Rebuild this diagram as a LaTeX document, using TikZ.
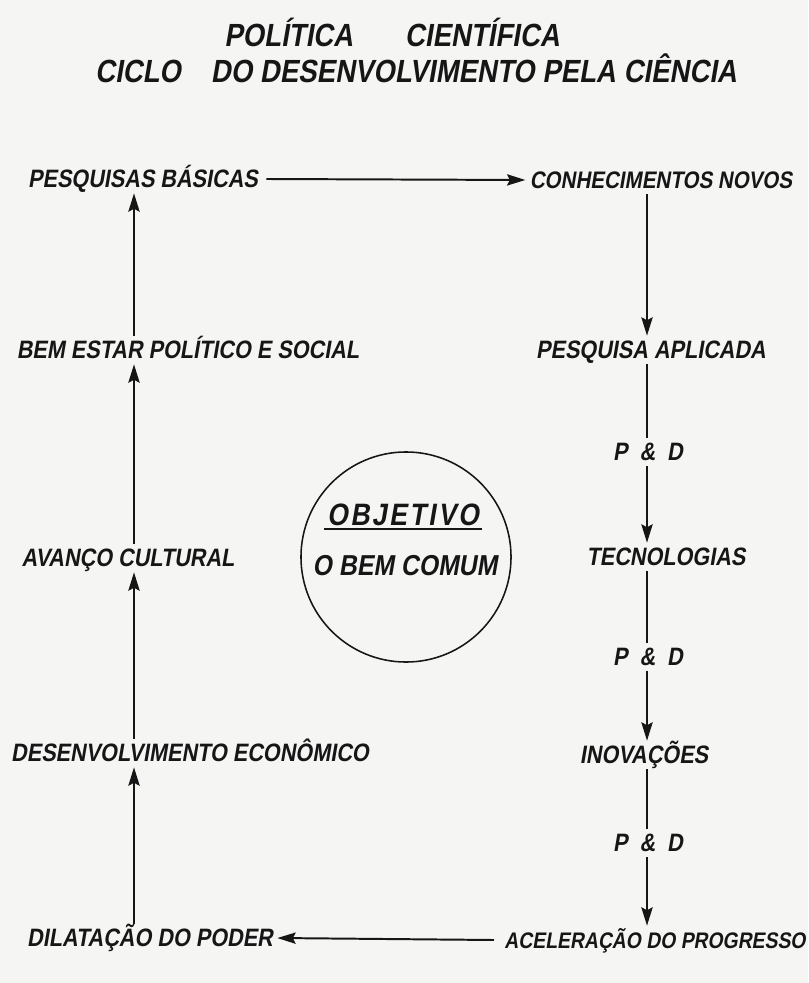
\documentclass[tikz,border=0pt]{standalone}
\usepackage{fontspec}
\usepackage{xcolor}
\usepackage{tikz}
\usetikzlibrary{arrows.meta, positioning, calc}
\newfontfamily\hand[FakeSlant=0.17,FakeStretch=0.86]{Liberation Sans}
\definecolor{paper}{RGB}{245,245,244}
\definecolor{ink}{RGB}{22,22,22}

\begin{document}
\begin{tikzpicture}[x=0.025cm, y=-0.025cm,
    lbl/.style={ink, inner sep=3pt, text height=13pt, text depth=1pt, font=\hand\bfseries\fontsize{17.9}{20}\selectfont},
    ttl/.style={ink, inner sep=2pt, font=\hand\bfseries\fontsize{22.8}{26}\selectfont},
    big/.style={ink, inner sep=2pt, font=\hand\bfseries\fontsize{22}{26}\selectfont},
    seta/.style={ink, line width=1.4pt, -{Stealth[length=13pt,width=8pt,inset=2pt]}},
    traco/.style={ink, line width=1.4pt}]
    \fill[paper] (0,0) rectangle (808,983);
    \useasboundingbox (0,0) rectangle (808,983);

    % titulo
    \node[ttl] (tit1) at (392,32) {POLÍTICA\hspace{1.3cm}CIENTÍFICA};
    \node[ttl] (tit2) at (416,68) {CICLO\hspace{0.75cm}DO DESENVOLVIMENTO PELA CIÊNCIA};

    % colunas
    \coordinate (colE) at (134,0);
    \coordinate (colD) at (647,0);

    \node[lbl] (basicas) at (143,179) {PESQUISAS BÁSICAS};
    \node[lbl, font=\hand\bfseries\fontsize{17}{20}\selectfont] (novos) at (661,180) {CONHECIMENTOS NOVOS};
    \node[lbl] (aplicada) at (651,350) {PESQUISA APLICADA};
    \node[lbl] (pd1) at (648,452) {P\hspace{0.3cm}\&\hspace{0.3cm}D};
    \node[lbl] (tecno) at (666,557) {TECNOLOGIAS};
    \node[lbl] (pd2) at (648,657) {P\hspace{0.3cm}\&\hspace{0.3cm}D};
    \node[lbl] (inov) at (644,755) {INOVAÇÕES};
    \node[lbl] (pd3) at (648,843) {P\hspace{0.3cm}\&\hspace{0.3cm}D};
    \node[lbl, font=\hand\bfseries\fontsize{16}{20}\selectfont] (acel) at (655,940) {ACELERAÇÃO DO PROGRESSO};
    \node[lbl] (poder) at (150,938) {DILATAÇÃO DO PODER};
    \node[lbl] (econ) at (190,753) {DESENVOLVIMENTO ECONÔMICO};
    \node[lbl] (cultural) at (128,558) {AVANÇO CULTURAL};
    \node[lbl] (bemestar) at (188,350) {BEM ESTAR POLÍTICO E SOCIAL};

    % objetivo
    \node[draw, ink, circle, line width=1.1pt, minimum size=5.25cm] (meta) at (406,557) {};
    \node[big] (objetivo) at (403,515) {\addfontfeatures{LetterSpace=8}OBJETIVO};
    \draw[traco] (objetivo.south west) -- (objetivo.south east);
    \node[big, font=\hand\bfseries\fontsize{20.5}{24}\selectfont] (comum) at (405,566) {O BEM COMUM};

    % ciclo
    \draw[seta] (basicas.east) ++(4,0) -- (novos.west);
    \draw[seta] (novos.south -| colD) -- (aplicada.north -| colD);
    \draw[traco] (aplicada.south -| colD) -- (pd1.north -| colD);
    \draw[seta] (pd1.south -| colD) -- (tecno.north -| colD);
    \draw[traco] (tecno.south -| colD) -- (pd2.north -| colD);
    \draw[seta] (pd2.south -| colD) -- (inov.north -| colD);
    \draw[traco] (inov.south -| colD) -- (pd3.north -| colD);
    \draw[seta] (pd3.south -| colD) -- (acel.north -| colD);
    \draw[seta] (acel.west) ++(-6,0) -- (poder.east);
    \draw[seta] (poder.north -| colE) -- (econ.south -| colE);
    \draw[seta] (econ.north -| colE) -- (cultural.south -| colE);
    \draw[seta] (cultural.north -| colE) -- (bemestar.south -| colE);
    \draw[seta] (bemestar.north -| colE) -- (basicas.south -| colE);
\end{tikzpicture}
\end{document}
